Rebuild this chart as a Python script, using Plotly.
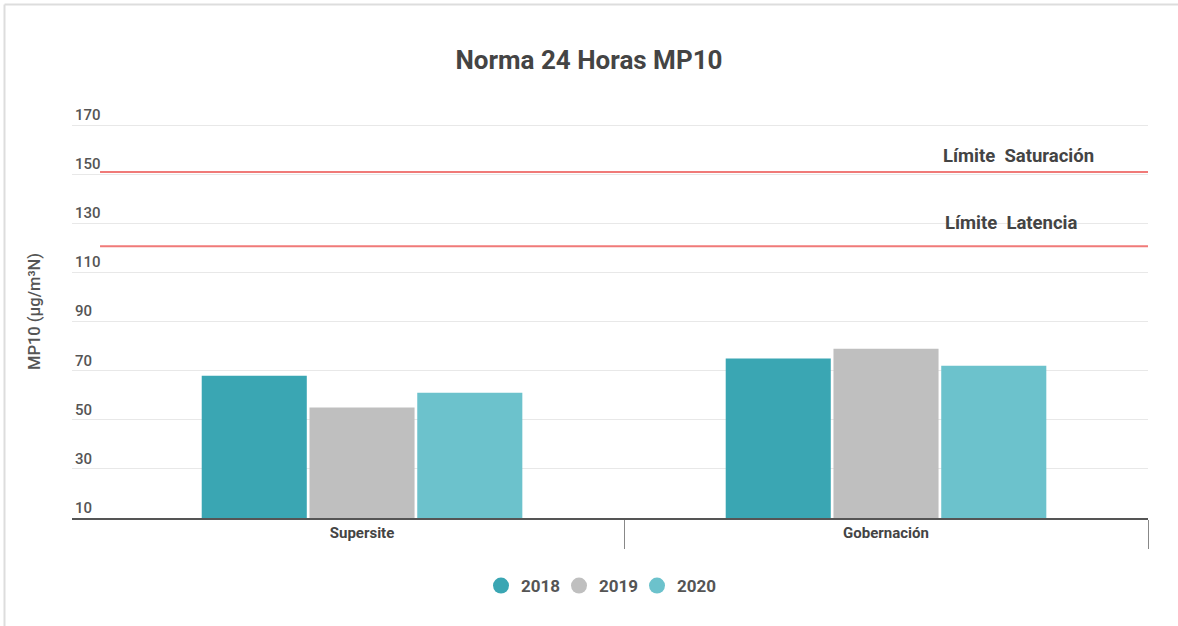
import plotly.graph_objects as go

categories = ["Supersite", "Gobernación"]
years = ["2018", "2019", "2020"]
values_2018 = [68, 75]
values_2019 = [55, 79]
values_2020 = [61, 72]
colors = ["#3aa6b3", "#bfbfbf", "#6cc2cc"]
limit_saturacion = 151
limit_latencia = 120.7
y_ticks = [10, 30, 50, 70, 90, 110, 130, 150, 170]

W, H = 1178, 626
L, R, T, B = 72, 30, 105, 108
pw = W - L - R
ph = H - T - B

def px_x(p):
    return (p - L) / pw

def px_y(p):
    return (H - B - p) / ph

fig = go.Figure()
series = [values_2018, values_2019, values_2020]
for yr, vals, c in zip(years, series, colors):
    fig.add_trace(go.Bar(x=categories, y=vals, name=yr, marker_color=c,
                         marker_line_width=0, showlegend=False, hoverinfo="y"))
for yr, c in zip(years, colors):
    fig.add_trace(go.Scatter(x=[None], y=[None], mode="markers", name=yr,
                             marker=dict(color=c, size=18, symbol="circle")))
# invisible spacer entry so the last legend label is not clipped
fig.add_trace(go.Scatter(x=[None], y=[None], mode="markers", name=" ",
                         marker=dict(color="rgba(0,0,0,0)", size=1)))

for val in [limit_saturacion, limit_latencia]:
    fig.add_shape(type="line", xref="x", yref="y", x0=-0.5, x1=1.5, y0=val, y1=val,
                  line=dict(color="#f07a78", width=2))

fig.add_annotation(x=px_x(1018), y=limit_saturacion, xref="paper", yref="y",
                   text="<b>Límite\u00a0 Saturación</b>", showarrow=False,
                   xanchor="center", yanchor="bottom", yshift=3,
                   font=dict(family="Roboto", size=18.5, color="#444444"))
fig.add_annotation(x=px_x(1011), y=limit_latencia, xref="paper", yref="y",
                   text="<b>Límite\u00a0 Latencia</b>", showarrow=False,
                   xanchor="center", yanchor="bottom", yshift=10,
                   font=dict(family="Roboto", size=18.5, color="#444444"))

fig.add_shape(type="line", xref="paper", yref="paper", x0=px_x(4.5), x1=px_x(1178),
              y0=px_y(4.5), y1=px_y(4.5), line=dict(color="#dddddd", width=2))
fig.add_shape(type="line", xref="paper", yref="paper", x0=px_x(4.5), x1=px_x(4.5),
              y0=px_y(4.5), y1=px_y(626), line=dict(color="#dddddd", width=2))

fig.update_layout(
    width=W, height=H,
    margin=dict(l=L, r=R, t=T, b=B, autoexpand=False),
    paper_bgcolor="white", plot_bgcolor="white",
    barmode="group", bargap=0.383, bargroupgap=0.025,
    title=dict(text="<b>Norma 24 Horas MP10</b>", x=0.5, xanchor="center",
               y=1 - 60 / H, yanchor="middle",
               font=dict(family="Roboto", size=26, color="#444444")),
    font=dict(family="Roboto", color="#555555"),
    legend=dict(orientation="h", x=px_x(637), xanchor="center",
                y=px_y(586), yanchor="middle",
                font=dict(family="Roboto", size=17, color="#555555", weight="bold"),
                itemsizing="trace", traceorder="normal", itemwidth=30,
                entrywidth=33, entrywidthmode="pixels"),
    xaxis=dict(type="category", range=[-0.5535, 1.5], showgrid=False,
               ticks="outside", tickson="boundaries", ticklen=29, tickcolor="#888888",
               tickwidth=1, showline=True, linecolor="#555555", linewidth=2,
               tickfont=dict(family="Roboto", size=15, color="#444444", weight="bold"),
               fixedrange=True),
    yaxis=dict(range=[10, 178.3], tickvals=y_ticks, ticklabelposition="inside top",
               showgrid=True, gridcolor="#e8e8e8", gridwidth=1, zeroline=False,
               showline=False, ticks="",
               tickfont=dict(family="Roboto", size=15, color="#555555", weight=500),
               title=dict(text="MP10 (µg/m³N)", standoff=30,
                          font=dict(family="Roboto", size=16.5, color="#555555", weight=500))),
)
fig.write_html("out.html", config={"displayModeBar": False},
               post_script="document.body.style.margin='0px';")
